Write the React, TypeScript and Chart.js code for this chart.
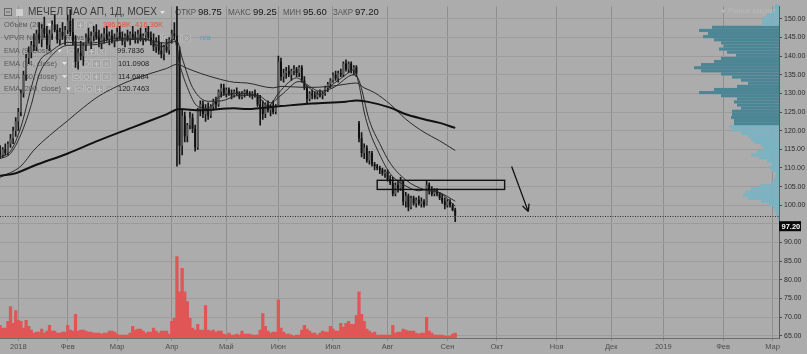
import React, { useEffect, useRef } from "react";
import { Chart, registerables } from "chart.js";

Chart.register(...registerables);

const CANVAS_W = 807;
const CANVAS_H = 354;

// ---------- axis data ----------
const monthTickIndex = [7, 26, 45, 66, 87, 107, 128, 149, 172, 191, 214, 235, 255, 278, 297];
const monthTickLabels = ["2018", "Фев", "Мар", "Апр", "Май", "Июн", "Июл", "Авг", "Сен", "Окт", "Ноя", "Дек", "2019", "Фев", "Мар"];
const priceTicks = [65, 70, 75, 80, 85, 90, 95, 100, 105, 110, 115, 120, 125, 130, 135, 140, 145, 150];

// ---------- daily candles (bar index 0 = late Dec 2017) ----------
const opens = [114.5,113.5,115,114,116.5,118,120,122.5,125,130,135,139.5,141,143,142.5,146,144.5,147.5,146,143,146,148.5,147,144.5,146.5,145.5,147,149.5,146.5,144,138.5,141,140,143,145,144,145.5,146.5,145,143.5,145,146,144.5,145.5,144,145,146.5,145,144,145.5,144.5,146,145,144.5,146,144.5,145.5,146.5,145,144,142.5,144,141.5,140.5,142.5,141.5,144.5,146,145.5,141.5,116,124,118.5,121.5,123.5,120.5,115.5,125.5,127,124.5,126,124,126.5,128,127,130.5,131.5,130,131,130,129.5,130.5,130,129,130,130.5,130,129.5,130,129.5,127,126,124.5,127,125.5,126.5,125,127,138.5,134.5,135.5,136,135,136,136.5,135.5,137,133.5,131.5,128.5,130,129.5,129,130,129.5,130,131.5,132.5,133.5,135,134,135.5,135,138,136.5,138,136,137,122,118,114,115.5,112,114,111,110.5,110,109.5,108.5,109,107,106,103,105.5,104.5,106.5,101,102.5,99.5,102,100.5,101.5,100.5,101,100,105.5,104,103,104,103,102,101,100,101,100,98.75];
const highs = [116,115.5,116.5,117,119,121,123.5,126,131,136,140.5,142.5,144,146,147,149,148.5,150.5,148,147,149.5,151,148.5,147.5,149,148,151,152.5,150,145.5,142,144,143.5,146,147.5,146.5,148,148.5,147,146,147.5,148,146.5,147,146,147.5,148,146.5,146,147,146.5,148,146.5,147,147.5,146,147.5,148,146.5,146,145,145.5,143.5,143,144.5,145,147,149,154,142.5,125.5,125,122,125,124.5,121.5,126,128,128,127,127.5,127,128.5,129,131,132.5,132.5,131.5,131.5,131,131,131.5,130.5,130.5,131,131,130.5,130.5,131,130,129.5,128,127.5,128,127,128,127,140,139.5,136.5,137,137.5,136.5,137.5,137,137.5,137.5,134.5,132,130.5,131,130.5,130.5,131,130.5,132,133,134,135.5,136,136,136.5,138.5,139,138.5,138.5,137.5,137.5,122.5,119.5,116.5,116,114.5,114.5,111.5,111,110.5,110,109.5,109.5,108,107.5,106,106.5,107.5,106.5,103.5,103,102.5,102.5,102,102.5,102,101.5,106.5,106,105,104.5,104.5,103.5,103,102,101.5,101.5,100.5,99.25];
const lows = [112.5,112.8,113.5,113.5,115.5,116.5,118.5,120,124,129,133.5,138,139.5,141.5,141.5,143.5,142.5,145,142,141.5,144.5,146.5,143.5,143,144.5,143,146,145.5,143,137,136.5,139,137.5,141.5,143.5,142,144,144.5,142.5,142,143.5,144,143,143.5,142.5,144,144.5,143,142.5,144,143,144.5,143.5,143.5,144,143,144,144.5,143,141.5,141,140.5,139.5,139,141,140.5,143.5,144.5,110.5,111,113.5,117,117,120.5,119.5,114.5,115,124,123.5,122.5,123,123.5,125.5,126,126.5,129,129.5,129,129.5,128.5,129,129.5,128.5,128.5,129,129.5,129,128.5,129,126.5,121.5,123,123.5,125,124,124.5,124.5,127,133.5,133,134,134.5,133.5,135,134.5,134.5,133,131,127.5,128,128.5,128.5,128.5,129,128.5,129.5,130.5,131.5,133,133.5,133,134.5,134.5,136,135.5,135.5,135,134.5,117,113,112.5,111.5,111,110.5,109.5,109.5,108.5,108,107.5,106.5,105.5,102.5,102.5,103.5,104,100,99.5,98.5,99,100,99.5,100,99.5,99.5,100,103,102.5,102.5,102.5,101.5,100.5,99,99.5,99.5,98.5,95.6];
const closes = [113.5,115,114,116.5,118,120,122.5,125,130,135,139.5,141,143,142.5,146,144.5,147.5,146,143,146,148.5,147,144.5,146.5,145.5,147,149.5,146.5,144,138.5,141,140,143,145,144,145.5,146.5,145,143.5,145,146,144.5,145.5,144,145,146.5,145,144,145.5,144.5,146,145,144.5,146,144.5,145.5,146.5,145,144,142.5,144,141.5,140.5,142.5,141.5,144.5,146,145.5,141.5,116,124,118.5,121.5,123.5,120.5,115.5,125.5,127,124.5,126,124,126.5,128,127,130.5,131.5,130,131,130,129.5,130.5,130,129,130,130.5,130,129.5,130,129.5,127,126,124.5,127,125.5,126.5,125,126.5,138.5,134.5,135.5,136,135,136,136.5,135.5,137,133.5,131.5,128.5,130,129.5,129,130,129.5,130,131.5,132.5,133.5,135,134,135.5,135,138,136.5,138,136,137,135.5,118,114,115.5,112,114,111,110.5,110,109.5,108.5,109,107,106,103,105.5,104.5,106.5,101,102.5,99.5,102,100.5,101.5,100.5,101,100,105.5,104,103,104,103,102,101,100,101,100,98.75,97.2];
const volumes = [13,10,10,17,32,15,28,18,17,10,18,12,8,5,6,6,9,5,7,13,7,7,5,5,6,6,13,8,7,24,7,8,8,7,6,6,5,5,5,4,5,5,7,7,6,4,3,3,3,3,5,12,8,9,9,7,5,6,6,10,7,5,7,7,7,4,17,20,83,47,71,47,37,20,10,8,14,8,8,33,8,7,8,6,7,7,4,3,5,3,3,4,3,7,4,4,4,3,3,3,8,25,12,7,5,6,6,39,10,6,4,4,3,2,3,3,8,13,9,7,5,5,3,5,7,6,6,12,9,7,7,15,11,15,17,14,14,23,47,24,17,9,7,5,6,3,3,3,3,3,3,13,5,6,6,9,8,7,7,7,5,4,5,5,21,7,5,3,3,3,3,2,2,2,4,5];

// ---------- EMA lines (read at sample bars) ----------
const ema9Index = [0,4,8,12,15,19,26,35,45,55,62,67,69,72,76,80,85,92,99,103,107,111,114,118,123,128,132,136,138,140,142,145,150,156,161,164,169,175];
const ema9Values = [113,114.5,121,131.6,138.4,141,143.7,143.5,144.8,144.8,142.5,144.5,138,131.6,126.5,126,129.5,130,129.3,126.6,130,133,134.2,132,129.7,132.5,134.5,136.3,132.4,125,120,115,108.5,105.2,103.9,104.2,103.4,99.78];
const ema14Index = [0,4,8,12,15,19,26,35,45,55,64,68,70,74,80,85,92,99,104,108,115,123,128,136,138,142,146,150,156,163,169,175];
const ema14Values = [112.5,113.9,119,127,135,139.5,142.9,143,144.2,144.5,143.5,144,139.5,131.6,127.9,128,129.5,129.5,127.5,129.5,133.2,130.6,131.5,135,133.5,122.7,116.5,111.3,106.8,104.2,103.4,101.09];
const ema50Index = [0,8,13,19,26,32,38,45,51,58,64,68,72,77,83,90,95,105,108,118,127,133,137,140,144,150,156,163,169,175];
const ema50Values = [107.5,110.5,114.8,118.7,122.7,126.2,129.3,131.9,133.7,135.4,136.7,137.8,136.7,135.4,134.1,133,132.8,131.5,131.9,131.6,131.9,132.5,132.8,131.5,130.2,127.1,123.1,119.6,117.3,114.69];
const ema200Index = [0,6,13,26,38,51,64,69,77,90,95,108,120,133,137,141,150,156,163,169,175];
const ema200Values = [107.9,108.6,110.6,113.9,117.4,120.9,124.4,125.8,125.5,126,125.8,126.6,127.3,127.8,128.1,127.8,126.2,124.4,123.1,122.1,120.75];

// ---------- volume profile (visible range) ----------
const vpvrLow = 95.6;
const vpvrHigh = 154.0;
const vpvrRows = [1.5,2,3,4,6,10,18,31,36,34,28,20,8,5,4,3,7,10,7,12,20,28,22,15,18,25,28,31,38,47,50,45,45,48,47,47,38,42,45,42,58,80,65,42,31,38,47,58,78,85,78,65,58,43,52,60,55,58,65,76,71,80,67,17,17,15,12,7,5,4];
const valueAreaLow = 121.8;
const valueAreaHigh = 148.3;

// ---------- drawings ----------
const zoneIndex = [145, 194];
const zonePrice = [104.25, 106.7];
const arrowIndex = [196.7, 203.1];
const arrowPrice = [110.4, 98.3];
const lastPrice = 97.2;

// ---------- legend texts ----------
const titleText = "МЕЧЕЛ ПАО АП, 1Д, MOEX";
const ohlcLabels = ["ОТКР", "МАКС", "МИН", "ЗАКР"];
const ohlcValues = ["98.75", "99.25", "95.60", "97.20"];
const emaLabels = ["EMA (9, close)", "EMA (14, close)", "EMA (50, close)", "EMA (200, close)"];
const emaLegendValues = ["99.7836", "101.0908", "114.6884", "120.7463"];

const BG = "#acacac";
const FONT = '"Liberation Sans", Arial, sans-serif';

function txt(ctx: any, s: string, x: number, y: number, size: number, color: string, maxWidth?: number, bold?: boolean) {
  ctx.font = `${bold ? "bold " : ""}${size}px ${FONT}`;
  ctx.fillStyle = color;
  ctx.textBaseline = "middle";
  ctx.textAlign = "left";
  if (maxWidth) ctx.fillText(s, x, y, maxWidth);
  else ctx.fillText(s, x, y);
}

function chevron(ctx: any, x: number, y: number) {
  ctx.fillStyle = "#e4e4e4";
  ctx.beginPath();
  ctx.moveTo(x, y - 1.5);
  ctx.lineTo(x + 5, y - 1.5);
  ctx.lineTo(x + 2.5, y + 1.5);
  ctx.closePath();
  ctx.fill();
}

function icons(ctx: any, x0: number, y: number) {
  for (let i = 0; i < 4; i++) {
    const x = x0 + i * 10;
    ctx.fillStyle = "#a3a3a3";
    ctx.fillRect(x, y - 4.5, 9, 9);
    ctx.strokeStyle = "#b6b6b6";
    ctx.lineWidth = 1;
    ctx.strokeRect(x + 0.5, y - 4, 8, 8);
    ctx.strokeStyle = "#c3c3c3";
    ctx.beginPath();
    const cx = x + 4.5, cy = y + 0.5;
    if (i === 0) { ctx.ellipse(cx, cy, 3, 1.8, 0, 0, Math.PI * 2); }
    else if (i === 1) { ctx.arc(cx, cy, 2.3, 0, Math.PI * 2); }
    else if (i === 2) { ctx.moveTo(cx - 2.5, cy); ctx.lineTo(cx + 2.5, cy); ctx.moveTo(cx, cy - 2.5); ctx.lineTo(cx, cy + 2.5); }
    else { ctx.moveTo(cx - 2, cy - 2); ctx.lineTo(cx + 2, cy + 2); ctx.moveTo(cx + 2, cy - 2); ctx.lineTo(cx - 2, cy + 2); }
    ctx.stroke();
  }
}

const bgPlugin = {
  id: "bgFill",
  beforeDraw(chart: any) {
    const ctx = chart.ctx;
    ctx.save();
    ctx.fillStyle = BG;
    ctx.fillRect(0, 0, chart.width, chart.height);
    ctx.restore();
  },
};

const underlayPlugin = {
  id: "underlay",
  beforeDatasetsDraw(chart: any) {
    const ctx = chart.ctx;
    const ys = chart.scales.y;
    const xp = chart.scales.xProfile;
    ctx.save();
    // volume profile
    const step = (vpvrHigh - vpvrLow) / vpvrRows.length;
    const x0 = xp.getPixelForValue(0);
    vpvrRows.forEach((w, i) => {
      const lo = vpvrLow + i * step;
      const hi = lo + step;
      const mid = (lo + hi) / 2;
      const yTop = ys.getPixelForValue(hi);
      const yBot = ys.getPixelForValue(lo);
      const x1 = xp.getPixelForValue(w);
      ctx.fillStyle = mid >= valueAreaLow && mid <= valueAreaHigh ? "#4c8695" : "#7ab3c1";
      ctx.fillRect(x1, yTop, x0 - x1, yBot - yTop);
    });

    // legend
    ctx.strokeStyle = "#6a6a6a";
    ctx.lineWidth = 1;
    ctx.strokeRect(4.5, 8.5, 7, 7);
    ctx.beginPath();
    ctx.moveTo(6, 12);
    ctx.lineTo(10, 12);
    ctx.stroke();
    ctx.fillStyle = "#cfcfcf";
    ctx.fillRect(16, 9, 7, 7);
    txt(ctx, titleText, 28, 12.5, 10.5, "#3a3a3a", 129);
    chevron(ctx, 160, 12.5);
    const lx = [175, 228, 283, 333];
    const vx = [198, 253, 303, 355];
    ohlcLabels.forEach((l, i) => {
      txt(ctx, l, lx[i], 12.5, 9.5, "#555555", vx[i] - lx[i] - 2);
      txt(ctx, ohlcValues[i], vx[i], 12.5, 9.5, "#161616");
    });

    txt(ctx, "Объём (20)", 4, 25, 7.5, "#5a5a5a", 39);
    chevron(ctx, 47, 25);
    icons(ctx, 56, 25);
    txt(ctx, "386.58K  416.36K", 103, 25, 7.5, "#e5532e", 64);

    txt(ctx, "VPVR Number Of Rows (100, Total, 70)", 4, 38, 7.5, "#5a5a5a", 134);
    chevron(ctx, 143, 38);
    icons(ctx, 152, 38);
    txt(ctx, "n/a", 200, 38, 7.5, "#4ea2c6");

    const rowY = [51, 63.5, 76.5, 89];
    const labW = [48, 53, 53, 57];
    const chevX = [57, 62, 62, 66];
    const iconX = [67, 72, 72, 75];
    const valX = [117, 118, 118, 118];
    emaLabels.forEach((l, i) => {
      txt(ctx, l, 4, rowY[i], 7.5, "#5a5a5a", labW[i]);
      chevron(ctx, chevX[i], rowY[i]);
      icons(ctx, iconX[i], rowY[i]);
      txt(ctx, emaLegendValues[i], valX[i], rowY[i], 7.5, "#1e1e1e");
    });
    ctx.restore();
  },
};

const overlayPlugin = {
  id: "overlay",
  afterDatasetsDraw(chart: any) {
    const ctx = chart.ctx;
    const xs = chart.scales.x;
    const ys = chart.scales.y;
    const area = chart.chartArea;
    ctx.save();
    // zone rectangle
    const rx0 = xs.getPixelForValue(zoneIndex[0]);
    const rx1 = xs.getPixelForValue(zoneIndex[1]);
    const ry0 = ys.getPixelForValue(zonePrice[1]);
    const ry1 = ys.getPixelForValue(zonePrice[0]);
    ctx.strokeStyle = "#111";
    ctx.lineWidth = 1.4;
    ctx.strokeRect(rx0, ry0, rx1 - rx0, ry1 - ry0);

    // arrow
    const ax0 = xs.getPixelForValue(arrowIndex[0]);
    const ay0 = ys.getPixelForValue(arrowPrice[0]);
    const ax1 = xs.getPixelForValue(arrowIndex[1]);
    const ay1 = ys.getPixelForValue(arrowPrice[1]);
    ctx.lineWidth = 1.3;
    ctx.beginPath();
    ctx.moveTo(ax0, ay0);
    ctx.lineTo(ax1, ay1);
    const ang = Math.atan2(ay1 - ay0, ax1 - ax0);
    const hl = 8;
    ctx.moveTo(ax1, ay1);
    ctx.lineTo(ax1 - hl * Math.cos(ang - 0.45), ay1 - hl * Math.sin(ang - 0.45));
    ctx.moveTo(ax1, ay1);
    ctx.lineTo(ax1 - hl * Math.cos(ang + 0.45), ay1 - hl * Math.sin(ang + 0.45));
    ctx.stroke();

    // last price line
    const ly = Math.round(ys.getPixelForValue(lastPrice)) + 0.5;
    ctx.strokeStyle = "#2e2e2e";
    ctx.lineWidth = 1;
    ctx.setLineDash([1, 1.5]);
    ctx.beginPath();
    ctx.moveTo(area.left, ly);
    ctx.lineTo(area.right, ly);
    ctx.stroke();
    ctx.setLineDash([]);
    ctx.restore();
  },
  afterDraw(chart: any) {
    const ctx = chart.ctx;
    const ys = chart.scales.y;
    const area = chart.chartArea;
    ctx.save();
    const ly = ys.getPixelForValue(lastPrice) + 10.5;
    ctx.fillStyle = "#0a0a0a";
    ctx.fillRect(area.right, ly - 5, 22, 10);
    txt(ctx, lastPrice.toFixed(2), area.right + 2.5, ly + 0.5, 7.5, "#ffffff", undefined, true);
    ctx.fillStyle = "#bababa";
    ctx.beginPath();
    ctx.arc(723, 11, 1.6, 0, Math.PI * 2);
    ctx.fill();
    txt(ctx, "Рынок закрыт", 728, 11, 7.5, "#bababa");
    ctx.restore();
  },
};

export default function App() {
  const canvasRef = useRef<HTMLCanvasElement | null>(null);

  useEffect(() => {
    const canvas = canvasRef.current;
    if (!canvas) return;

    const wickData = highs.map((h, i) => ({ x: i, y: [lows[i], h] }));
    const bodyData = opens.map((o, i) => ({ x: i, y: [Math.min(o, closes[i]), Math.max(o, closes[i])] }));
    const bodyColors = opens.map((o, i) => (closes[i] >= o ? "#585858" : "#0f0f0f"));
    const volData = volumes.map((v, i) => ({ x: i, y: v }));
    const line = (idx: number[], vals: number[], color: string, width: number, label: string) => ({
      type: "line" as const,
      label,
      data: idx.map((x, i) => ({ x, y: vals[i] })),
      borderColor: color,
      borderWidth: width,
      pointRadius: 0,
      cubicInterpolationMode: "monotone" as const,
      xAxisID: "x",
      yAxisID: "y",
      order: 0,
    });

    const chart = new Chart(canvas, {
      type: "bar",
      data: {
        datasets: [
          line(ema200Index, ema200Values, "#111111", 2, "EMA 200"),
          line(ema50Index, ema50Values, "#2a2a2a", 1, "EMA 50"),
          line(ema14Index, ema14Values, "#2a2a2a", 1, "EMA 14"),
          line(ema9Index, ema9Values, "#2a2a2a", 1, "EMA 9"),
          {
            type: "bar",
            label: "wick",
            data: wickData as any,
            backgroundColor: "#151515",
            grouped: false,
            barPercentage: 1,
            categoryPercentage: 1,
            maxBarThickness: 1,
            xAxisID: "x",
            yAxisID: "y",
            order: 3,
          },
          {
            type: "bar",
            label: "body",
            data: bodyData as any,
            backgroundColor: bodyColors,
            grouped: false,
            barPercentage: 0.72,
            categoryPercentage: 1,
            xAxisID: "x",
            yAxisID: "y",
            order: 2,
          },
          {
            type: "bar",
            label: "volume",
            data: volData as any,
            backgroundColor: "#e05656",
            grouped: false,
            barPercentage: 1,
            categoryPercentage: 1,
            xAxisID: "x",
            yAxisID: "y2",
            order: 5,
          },
        ],
      },
      options: {
        responsive: false,
        animation: false,
        devicePixelRatio: 1,
        layout: { padding: 0 },
        plugins: { legend: { display: false }, tooltip: { enabled: false } },
        scales: {
          x: {
            type: "linear",
            position: "bottom",
            min: -0.04,
            max: 299.5,
            offset: false,
            afterBuildTicks: (s: any) => {
              s.ticks = monthTickIndex.map((v) => ({ value: v }));
            },
            afterFit: (s: any) => {
              s.height = 16;
            },
            ticks: {
              autoSkip: false,
              maxRotation: 0,
              minRotation: 0,
              padding: 1,
              color: "#4e4e4e",
              font: { family: FONT, size: 7.5 },
              callback: (_v: any, i: number) => monthTickLabels[i],
            },
            grid: { color: "#8f8f8f", lineWidth: 1, offset: false, tickLength: 3, tickColor: "#8f8f8f" },
            border: { display: true, color: "#6e6e6e" },
          },
          y: {
            type: "linear",
            position: "right",
            min: 64.4,
            max: 153.4,
            afterBuildTicks: (s: any) => {
              s.ticks = priceTicks.map((v) => ({ value: v }));
            },
            afterFit: (s: any) => {
              s.width = 28;
            },
            ticks: {
              padding: 2,
              color: "#2c2c2c",
              font: { family: FONT, size: 7 },
              callback: (v: any) => Number(v).toFixed(2),
            },
            grid: { color: "#9c9c9c", lineWidth: 1, tickLength: 3, tickColor: "#4a4a4a" },
            border: { display: true, color: "#5a5a5a" },
          },
          y2: { type: "linear", display: false, min: 0, max: 338 },
          xProfile: { type: "linear", axis: "x", display: false, reverse: true, offset: false, min: 0, max: 779, grid: { offset: false } },
        },
      } as any,
      plugins: [bgPlugin, underlayPlugin, overlayPlugin],
    });

    return () => chart.destroy();
  }, []);

  return (
    <div style={{ position: "absolute", left: 0, top: 0, width: CANVAS_W, height: CANVAS_H, overflow: "hidden" }}>
      <canvas ref={canvasRef} width={CANVAS_W} height={CANVAS_H} style={{ display: "block" }} />
    </div>
  );
}
